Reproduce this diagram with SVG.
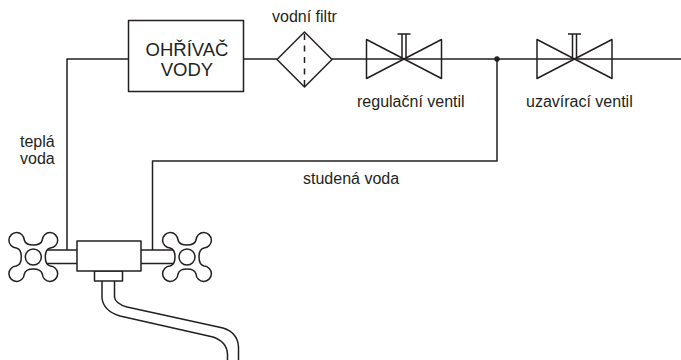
<svg xmlns="http://www.w3.org/2000/svg" width="681" height="360" viewBox="0 0 681 360">
<style>
.l{fill:none;stroke:#231f20;stroke-width:1.5;stroke-linejoin:round}
.t{fill:#fff;stroke:#231f20;stroke-width:1.5;stroke-linejoin:round}
text{font-family:"Liberation Sans",Arial,sans-serif;font-size:16px;fill:#231f20}
.b{font-size:18.500px}
</style>
<defs>
<g id="handle"><path class="t" d="M-9-17C-8-13-5-12 0-12C5-12 8-13 9-17A7.700 7.700 0 1 1 17-9C13-8 12-5 12 0C12 5 13 8 17 9A7.700 7.700 0 1 1 9 17C8 13 5 12 0 12C-5 12-8 13-9 17A7.700 7.700 0 1 1-17 9C-13 8-12 5-12 0C-12-5-13-8-17-9A7.700 7.700 0 1 1-9-17Z"/><circle class="t" r="8"/></g>
<g id="valve"><path class="l" d="M-37.500-19.500V19.500L37.500-19.500V19.500ZM-2 0V-25M2 0V-25M-6.500-25H6.500"/></g>
</defs>
<g id="connectors">
<path class="l" d="M67 250V59H128M244 59H277M332 59H681M497 59V161H152.500V250"/>
<circle cx="497" cy="59" r="2.700" fill="#231f20"/>
</g>
<g id="heater"><rect class="t" x="128.500" y="20.500" width="115" height="71"/><text class="b" x="187" y="55.500" text-anchor="middle">OHŘÍVAČ</text><text class="b" x="187" y="76" text-anchor="middle">VODY</text></g>
<g id="filter"><path class="t" d="M304.500 32L332 59.500L304.500 87L277 59.500Z"/><path class="l" stroke-dasharray="6 5.500" d="M304.500 34V86"/><text x="272" y="22">vodní filtr</text></g>
<g id="regulating-valve"><use href="#valve" x="404" y="59"/><text x="357" y="107">regulační ventil</text></g>
<g id="shutoff-valve"><use href="#valve" x="574.500" y="59"/><text x="526" y="107">uzavírací ventil</text></g>
<g id="label-hot"><text x="20" y="147">teplá</text><text x="20" y="164">voda</text></g>
<g id="label-cold"><text x="303" y="184">studená voda</text></g>
<g id="faucet">
<rect class="t" x="40" y="250" width="40" height="13.500"/><rect class="t" x="138" y="250" width="40" height="13.500"/>
<use href="#handle" x="33.300" y="257"/><use href="#handle" x="187" y="257"/>
<path class="l" d="M102 281V298C103 307 110 313 120 316L213 337C222 340 227 346 227.500 354V360M114.500 281V297C115 302 120 305 127 307L223 328C233 331 238 338 238.500 347V360"/>
<rect class="t" x="94.500" y="271" width="28" height="10"/>
<rect class="t" x="77" y="241" width="64" height="30"/>
</g>
</svg>
